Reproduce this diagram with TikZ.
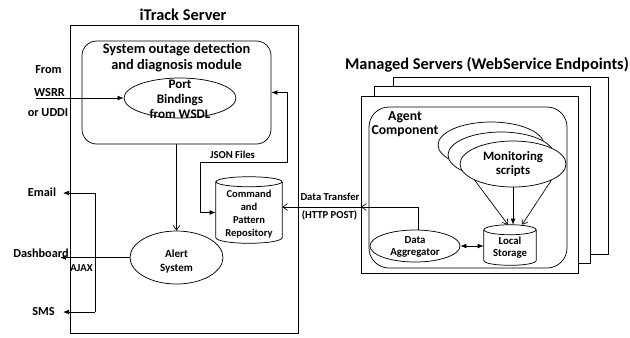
\documentclass[tikz,border=0pt]{standalone}
\usepackage{fontspec}
\setmainfont{Carlito}
\usetikzlibrary{arrows.meta,shapes.geometric,fit,calc}
\newcommand\fsz[2]{\fontsize{#1}{#2}\selectfont\bfseries}
\begin{document}
\begin{tikzpicture}[x=0.75pt,y=-0.75pt,
  lbl/.style={inner sep=0pt, align=center},
  box/.style={draw, line width=0.65pt, fill=white, inner sep=0pt},
  rbox/.style={box, line width=0.55pt, rounded corners=#1},
  ell/.style={draw, ellipse, line width=0.55pt, fill=white, inner sep=0pt},
  cylbox/.style={inner sep=0pt},
  cyl/.style={line width=0.55pt},
  conn/.style={line width=0.5pt},
  ftip/.style={-{Latex[length=4.5pt,width=3.5pt]}},
  ftipb/.style={{Latex[length=4.5pt,width=3.5pt]}-{Latex[length=4.5pt,width=3.5pt]}},
  otip/.style={-{Straight Barb[length=3.5pt,width=5pt]}}
]
\useasboundingbox (0,0) rectangle (630,337);

% ---------------- iTrack server ----------------
\node[lbl, font=\fsz{12.3}{14}] (srvtitle) at (183,15) {iTrack Server};
\node[box, fit={(70,25)(298,333)}] (srv) {};

\node[rbox=11pt, fit={(82,41)(271,144)}] (mod) {};
\node[lbl, font=\fsz{10.8}{12}] (modtitle) at (176.5,58) {System outage detection\\and diagnosis module};
\node[ell, minimum width=84pt, minimum height=30pt] (port) at (180,98) {};
\node[lbl, font=\fsz{9.8}{11.2}] (portt) at (180,99) {Port\\Bindings\\from WSDL};

\node[ell, minimum width=69.75pt, minimum height=39.75pt] (alert) at (176.5,257.5) {};
\node[lbl, font=\fsz{8.3}{9.8}] (alertt) at (176.5,261.5) {Alert\\System};

% command and pattern repository (cylinder)
\node[cylbox, fit={(216,182)(282,243)}] (cmd) {};
\draw[cyl] ($(cmd.north west)$) -- ($(cmd.south west)+(0,-6)$)
  .. controls ($(cmd.south west)+(0,2)$) and ($(cmd.south east)+(0,2)$) .. ($(cmd.south east)+(0,-6)$)
  -- (cmd.north east);
\draw[cyl] (cmd.north) ellipse [x radius=33, y radius=5];
\node[lbl, font=\fsz{7.9}{9.8}] (cmdt) at (249,214.5) {Command\\and\\Pattern\\Repository};

% inputs and outputs
\node[lbl, font=\fsz{9.2}{11}] (from) at (48.5,70) {From};
\node[lbl, font=\fsz{9.2}{11}] (wsrr) at (49.5,93) {WSRR};
\node[lbl, font=\fsz{9.2}{11}] (uddi) at (48,113) {or UDDI};
\coordinate (ws) at (36,98);
\draw[conn, ftip] (ws) -- (port.west);

\node[lbl, font=\fsz{9.2}{11}] (email) at (42,192) {Email};
\node[lbl, font=\fsz{9.2}{11}] (dashb) at (41,253) {Dashboard};
\node[lbl, font=\fsz{9.2}{11}] (smsl) at (43.5,312) {SMS};
\node[lbl, font=\fsz{8}{9.5}] (ajax) at (81.5,268) {AJAX};

\coordinate (em) at (63,193);
\coordinate (sm) at (63,312);
\coordinate (db) at (60,257.5);
\coordinate (jt) at (95,193);
\coordinate (jb) at (95,312);
\draw[conn] (jt) -- (jb);
\draw[conn, ftip] (jt) -- (em);
\draw[conn, ftip] (jb) -- (sm);
\draw[conn, ftip] (alert.west) -- (db);

\draw[conn, otip] (mod.south) -- (alert.north);

\node[lbl, font=\fsz{8}{9.5}] (json) at (232.5,155) {JSON Files};
\coordinate (j1) at (287,162);
\coordinate (j2) at (200,162);
\draw[conn, ftipb] (mod.east) -| (j1) -- (j2) |- (cmd.west);

% ---------------- managed servers ----------------
\node[lbl, font=\fsz{12.3}{14}] (mtitle) at (487,65) {Managed Servers (WebService Endpoints)};
\node[box, fit={(393,77)(608,254)}] (back2) {};
\node[box, fit={(374,86)(590,263)}] (back1) {};
\node[box, fit={(361,96)(578,273)}] (front) {};

\node[rbox=15pt, fit={(369,107)(567,268)}] (agent) {};
\node[lbl, font=\fsz{10.3}{10.5}] (agentl) at (405,124) {Agent\\Component};

\node[ell, minimum width=79.5pt, minimum height=34.5pt] (ms3) at (491,145) {};
\node[ell, minimum width=79.5pt, minimum height=34.5pt] (ms2) at (501,155) {};
\node[ell, minimum width=79.5pt, minimum height=34.5pt] (ms) at (513,164) {};
\node[lbl, font=\fsz{9.6}{10.5}] (mst) at (513,164) {Monitoring\\scripts};

% local storage (cylinder)
\node[cylbox, fit={(484,230)(536,265)}] (ls) {};
\draw[cyl] (ls.north west) -- ($(ls.south west)+(0,-5)$)
  .. controls ($(ls.south west)+(0,1.7)$) and ($(ls.south east)+(0,1.7)$) .. ($(ls.south east)+(0,-5)$)
  -- (ls.north east);
\draw[cyl] (ls.north) ellipse [x radius=26, y radius=5];
\node[lbl, font=\fsz{8.1}{9}] (lst) at (510,248) {Local\\Storage};

\node[ell, minimum width=67.5pt, minimum height=24pt] (agg) at (415,246) {};
\node[lbl, font=\fsz{8.1}{9}] (aggt) at (415,247) {Data\\Aggregator};

\draw[conn, otip] (ms.203) -- ($(ls.north)+(-2,-5)$);
\draw[conn, ftip] (ms.south) -- ($(ms.south |- ls.north)+(0,-5)$);
\draw[conn, otip] (ms.-23) -- ($(ls.north)+(12,-5)$);
\draw[conn, ftipb] (agg.east) -- (agg.east -| ls.west);

% data transfer to the repository
\node[lbl, font=\fsz{8}{9.5}] (dtl) at (330,197) {Data Transfer};
\node[lbl, font=\fsz{8}{9.5}] (http) at (329.5,215) {(HTTP POST)};
\coordinate (dt) at (361,207);
\draw[conn, otip] (agg.78) |- (dt);
\draw[conn, otip] (dt) -- (cmd.east |- dt);
\end{tikzpicture}
\end{document}
